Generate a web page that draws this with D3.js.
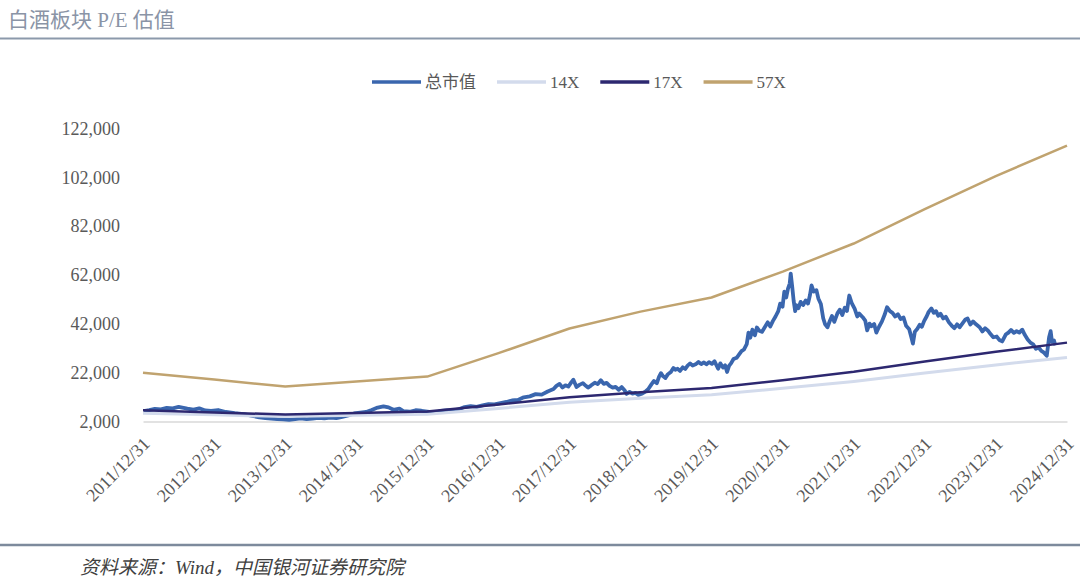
<!DOCTYPE html>
<html><head><meta charset="utf-8">
<script src="https://cdn.jsdelivr.net/npm/d3@7"></script>
<style>body{margin:0;background:#fff;} svg{display:block;}</style>
</head><body><svg id="c" width="1080" height="585"></svg>
<script>
// ---------- data ----------
const title = "白酒板块 P/E 估值";
const source = "资料来源：Wind，中国银河证券研究院";
const seriesNames = ["总市值", "14X", "17X", "57X"];
const seriesColors = ["#3A66AE", "#D3DBEC", "#2D2870", "#C0A36F"];

const yTicks = [2000, 22000, 42000, 62000, 82000, 102000, 122000];
const xTickLabels = ["2011/12/31","2012/12/31","2013/12/31","2014/12/31","2015/12/31","2016/12/31","2017/12/31",
  "2018/12/31","2019/12/31","2020/12/31","2021/12/31","2022/12/31","2023/12/31","2024/12/31"];

// P/E band lines (year-end points)
const peDates = ["2011-12-31","2012-12-31","2013-12-31","2014-12-31","2015-12-31","2016-12-31","2017-12-31",
  "2018-12-31","2019-12-31","2020-12-31","2021-12-31","2022-12-31","2023-12-31","2024-12-31"];
const pe14 = [5400, 4720, 4000, 4520, 5010, 7370, 9850, 11540, 12970, 15570, 18400, 21860, 25180, 28250];
const pe17 = [6560, 5730, 4860, 5490, 6080, 8950, 11960, 14020, 15750, 18910, 22340, 26540, 30570, 34300];
const pe57 = [22000, 19200, 16300, 18400, 20400, 30000, 40100, 47000, 52800, 63400, 74900, 89000, 102500, 115000];

// 总市值 (total market value), [date, value]
const mvPoints = [
["2012-01-04",6300],["2012-02-01",6700],["2012-03-01",7200],["2012-04-01",7000],["2012-05-01",7600],["2012-06-01",7400],
["2012-07-01",8000],["2012-07-20",7700],["2012-08-15",7300],["2012-09-15",6900],["2012-10-15",7400],["2012-11-15",6500],["2012-12-15",6300],
["2013-01-20",6700],["2013-03-01",5900],["2013-04-15",5400],["2013-06-01",5000],["2013-07-15",4300],["2013-08-20",3700],
["2013-09-20",3400],["2013-10-20",3200],["2013-11-20",3000],["2013-12-20",2900],
["2014-01-20",2700],["2014-02-20",3000],["2014-03-20",3300],["2014-04-20",3000],["2014-05-20",3200],["2014-06-20",3500],
["2014-07-20",3300],["2014-08-20",3600],["2014-09-20",3400],["2014-10-20",3900],["2014-11-20",4500],["2014-12-20",5300],
["2015-01-20",5600],["2015-02-20",5900],["2015-03-20",6700],["2015-04-20",7700],["2015-05-20",8200],["2015-06-15",7800],
["2015-07-10",6800],["2015-08-10",7300],["2015-09-01",6200],["2015-10-01",6000],["2015-11-01",6600],["2015-12-01",6400],
["2016-01-10",5900],["2016-02-10",5700],["2016-03-10",6300],["2016-04-10",6500],["2016-05-10",6500],["2016-06-10",7000],
["2016-07-10",7900],["2016-08-10",8300],["2016-09-10",8000],["2016-10-10",8600],["2016-11-10",9100],["2016-12-10",9000],
["2017-01-10",9500],["2017-02-10",10000],["2017-03-10",10600],["2017-04-10",10800],["2017-05-10",11900],["2017-06-10",12300],
["2017-07-10",13200],["2017-08-10",13000],["2017-09-10",14300],["2017-10-10",15300],["2017-10-25",16600],["2017-11-10",17400],
["2017-11-25",15900],["2017-12-10",16800],["2017-12-25",16300],
["2018-01-10",18100],["2018-01-20",19100],["2018-02-05",16100],["2018-02-20",17000],["2018-03-10",17700],["2018-03-25",16600],
["2018-04-05",15900],["2018-04-20",16700],["2018-05-10",17900],["2018-05-25",17300],["2018-06-10",18900],["2018-06-25",17400],
["2018-07-10",17800],["2018-07-25",16600],["2018-08-10",15900],["2018-08-25",16200],["2018-09-10",15000],["2018-09-25",16100],
["2018-10-10",14800],["2018-10-20",13300],["2018-11-05",14100],["2018-11-20",13400],["2018-12-05",13700],["2018-12-20",12900],
["2019-01-10",13500],["2019-01-25",14200],["2019-02-10",15400],["2019-02-25",17200],["2019-03-10",18600],["2019-03-25",17700],
["2019-04-05",20300],["2019-04-15",21800],["2019-04-25",20600],["2019-05-08",19800],["2019-05-20",21300],["2019-06-05",22300],
["2019-06-18",23900],["2019-06-28",23200],["2019-07-10",23600],["2019-07-22",22700],["2019-08-05",24200],["2019-08-18",23500],
["2019-08-30",24900],["2019-09-12",25800],["2019-09-25",24900],["2019-10-10",25400],["2019-10-25",26400],["2019-11-08",25500],
["2019-11-22",26200],["2019-12-05",25400],["2019-12-18",26300],
["2020-01-02",25600],["2020-01-15",26700],["2020-02-03",23600],["2020-02-14",25800],["2020-02-28",24100],["2020-03-10",25000],
["2020-03-20",22300],["2020-03-30",24800],["2020-04-10",25900],["2020-04-22",27600],["2020-05-08",28100],["2020-05-20",29400],
["2020-06-02",30800],["2020-06-15",31500],["2020-06-29",33700],["2020-07-08",38400],["2020-07-17",36300],["2020-07-28",39600],
["2020-08-10",37300],["2020-08-20",40500],["2020-09-01",39200],["2020-09-15",38700],["2020-09-28",40400],["2020-10-15",42600],
["2020-10-28",40900],["2020-11-10",43100],["2020-11-24",45000],["2020-12-08",47200],["2020-12-18",50300],["2020-12-30",49000],
["2021-01-08",55200],["2021-01-18",52800],["2021-01-27",56400],["2021-02-05",58500],["2021-02-10",62600],["2021-02-18",57000],
["2021-02-25",51500],["2021-03-05",47200],["2021-03-12",49600],["2021-03-22",48400],["2021-04-02",51000],["2021-04-15",49700],
["2021-04-28",51600],["2021-05-10",50300],["2021-05-20",53800],["2021-05-28",57700],["2021-06-08",55200],["2021-06-22",55800],
["2021-07-02",52400],["2021-07-15",50100],["2021-07-27",44300],["2021-08-06",41800],["2021-08-18",40600],["2021-08-30",43200],
["2021-09-10",45200],["2021-09-22",42800],["2021-10-08",46300],["2021-10-20",47800],["2021-11-02",45600],["2021-11-15",48600],
["2021-11-26",47300],["2021-12-08",53600],["2021-12-20",50600],
["2022-01-05",48100],["2022-01-18",45000],["2022-01-28",46200],["2022-02-15",44700],["2022-02-28",43300],["2022-03-10",39300],
["2022-03-22",42100],["2022-04-01",41000],["2022-04-15",41900],["2022-04-26",38400],["2022-05-10",40800],["2022-05-25",43000],
["2022-06-08",45800],["2022-06-20",48800],["2022-07-05",47200],["2022-07-18",46500],["2022-08-01",45000],["2022-08-15",45900],
["2022-08-29",44000],["2022-09-13",44600],["2022-09-26",41200],["2022-10-12",39800],["2022-10-24",36200],["2022-10-31",33900],
["2022-11-10",38800],["2022-11-22",39900],["2022-12-05",41600],["2022-12-16",40800],["2022-12-28",43200],
["2023-01-10",45100],["2023-01-20",46900],["2023-02-03",48300],["2023-02-15",46500],["2023-02-27",47200],["2023-03-10",45300],
["2023-03-22",46100],["2023-04-05",44200],["2023-04-18",44900],["2023-05-04",42600],["2023-05-18",41300],["2023-06-01",40200],
["2023-06-15",41800],["2023-06-28",40600],["2023-07-12",42100],["2023-07-28",43800],["2023-08-08",44200],["2023-08-22",41700],
["2023-09-05",43000],["2023-09-19",41900],["2023-10-09",40600],["2023-10-23",38900],["2023-11-06",40200],["2023-11-20",39300],
["2023-12-04",37800],["2023-12-18",36500],
["2024-01-05",36800],["2024-01-18",35400],["2024-02-02",34800],["2024-02-20",37600],["2024-03-05",38400],["2024-03-18",39500],
["2024-04-02",38300],["2024-04-16",39000],["2024-04-30",38400],["2024-05-15",39600],["2024-05-28",37500],["2024-06-12",35600],
["2024-06-26",34300],["2024-07-10",33600],["2024-07-24",31800],["2024-08-07",32300],["2024-08-21",30900],["2024-09-04",30200],
["2024-09-18",28900],["2024-09-30",36500],["2024-10-08",39000],["2024-10-15",34600],["2024-10-25",35200],["2024-11-01",33200]
];

// ---------- drawing ----------
const svg = d3.select("#c");
const parse = d3.timeParse("%Y-%m-%d");
const serif = "'Liberation Serif','Noto Sans CJK SC',serif";
const textColor = "#595959";

svg.append("text").attr("x", 8).attr("y", 27)
  .attr("font-family", serif).attr("font-size", 21).attr("fill", "#8A94A6").text(title);
svg.append("line").attr("x1", 0).attr("x2", 1080).attr("y1", 38.5).attr("y2", 38.5)
  .attr("stroke", "#8C99AB").attr("stroke-width", 2);

svg.append("line").attr("x1", 0).attr("x2", 1080).attr("y1", 545).attr("y2", 545)
  .attr("stroke", "#7D8A9C").attr("stroke-width", 2.5);
svg.append("text").attr("x", 80).attr("y", 574)
  .attr("font-family", serif).attr("font-size", 19).attr("font-style", "italic")
  .attr("fill", "#404040").text(source);

const x = d3.scaleTime().domain([parse("2011-12-31"), parse("2024-12-31")]).range([143, 1067]);
const y = d3.scaleLinear().domain([2000, 122000]).range([421.5, 128.5]);

// y axis
const ya = svg.append("g").attr("transform", "translate(128,0)")
  .call(d3.axisLeft(y).tickValues(yTicks).tickSize(0).tickPadding(8).tickFormat(d3.format(",")));
ya.select(".domain").remove();
ya.selectAll("text").attr("font-family", serif).attr("font-size", 18).attr("fill", textColor);

// x axis
const xTickDates = xTickLabels.map(s => d3.timeParse("%Y/%m/%d")(s));
const xa = svg.append("g").attr("transform", `translate(0,${y(2000)})`)
  .call(d3.axisBottom(x).tickValues(xTickDates).tickSize(0).tickSizeOuter(0)
    .tickFormat((d, i) => xTickLabels[i]));
xa.select(".domain").attr("stroke", "#D9D9D9").attr("stroke-width", 1.5);
xa.selectAll("text").attr("font-family", serif).attr("font-size", 18).attr("fill", textColor)
  .attr("text-anchor", "end").attr("x", 0).attr("y", 0).attr("dy", "0.35em")
  .attr("transform", "translate(3,19) rotate(-45)");

// lines
const line = d3.line().x(d => x(d[0])).y(d => y(d[1]));
const mvData = mvPoints.map(p => [parse(p[0]), p[1]]);
const mk = arr => peDates.map((d, i) => [parse(d), arr[i]]);

svg.append("path").datum(mvData).attr("d", line).attr("fill", "none")
  .attr("stroke", seriesColors[0]).attr("stroke-width", 3.8).attr("stroke-linejoin", "round");
svg.append("path").datum(mk(pe14)).attr("d", line).attr("fill", "none")
  .attr("stroke", seriesColors[1]).attr("stroke-width", 3).attr("stroke-linejoin", "round");
svg.append("path").datum(mk(pe17)).attr("d", line).attr("fill", "none")
  .attr("stroke", seriesColors[2]).attr("stroke-width", 2.5).attr("stroke-linejoin", "round");
svg.append("path").datum(mk(pe57)).attr("d", line).attr("fill", "none")
  .attr("stroke", seriesColors[3]).attr("stroke-width", 2.5).attr("stroke-linejoin", "round");

// legend
const lg = svg.append("g");
let lx = 372;
seriesNames.forEach((name, i) => {
  lg.append("line").attr("x1", lx).attr("x2", lx + 49).attr("y1", 82).attr("y2", 82)
    .attr("stroke", seriesColors[i]).attr("stroke-width", 3.5);
  const t = lg.append("text").attr("x", lx + 53).attr("y", 82).attr("dy", "0.35em")
    .attr("font-family", serif).attr("font-size", 17).attr("fill", textColor).text(name);
  lx += 53 + t.node().getComputedTextLength() + 21;
});
</script></body></html>
